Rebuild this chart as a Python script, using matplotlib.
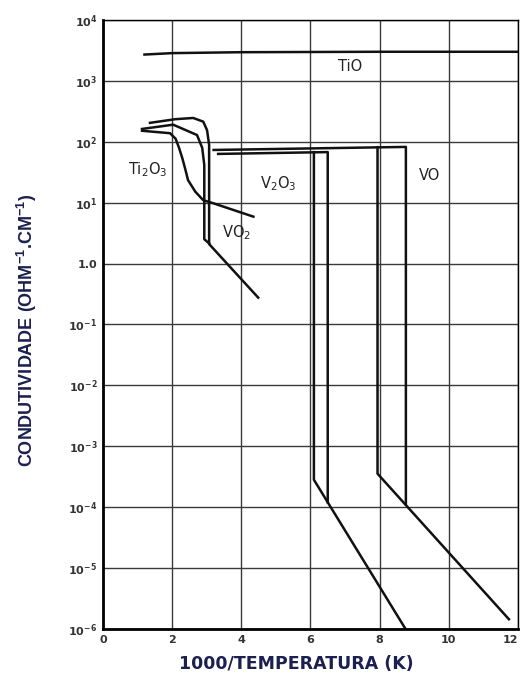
import numpy as np
import matplotlib.pyplot as plt
from matplotlib import font_manager

plt.rcParams["mathtext.default"] = "regular"

# --- DATA (x = 1000/T, y = conductivity) ---
tio_x = [1.2, 2.0, 4.0, 8.0, 12.0]
tio_y = [2.7e3, 2.85e3, 2.95e3, 3.0e3, 3.0e3]

ti2o3_x = [1.13, 1.94, 2.1, 2.2, 2.3, 2.38, 2.46, 2.67, 2.9, 3.19, 4.35]
ti2o3_y = [10**2.18, 10**2.14, 10**2.05, 10**1.90, 10**1.72, 10**1.55, 10**1.37,
           10**1.18, 10**1.04, 10**0.99, 10**0.77]

vo2_a_x = [1.36, 2.09, 2.61, 2.9, 3.01, 3.07, 3.07, 4.49]
vo2_a_y = [10**2.31, 10**2.37, 10**2.39, 10**2.33, 10**2.19, 10**1.95, 10**0.32, 10**-0.56]
vo2_b_x = [1.13, 2.03, 2.72, 2.87, 2.93, 2.93, 3.07]
vo2_b_y = [10**2.21, 10**2.28, 10**2.11, 10**1.90, 10**1.62, 10**0.40, 10**0.33]

v2o3_a_x = [3.33, 6.5, 6.5]
v2o3_a_y = [10**1.80, 10**1.83, 10**-3.92]
v2o3_b_x = [6.1, 6.1, 8.75]
v2o3_b_y = [10**1.83, 10**-3.55, 10**-6.0]

vo_a_x = [3.2, 8.76, 8.76]
vo_a_y = [10**1.865, 10**1.915, 10**-3.95]
vo_b_x = [7.94, 7.94, 11.74]
vo_b_y = [10**1.91, 10**-3.45, 10**-5.84]

labels = ["TiO", "Ti$_2$O$_3$", "VO$_2$", "V$_2$O$_3$", "VO"]
label_x = [7.16, 1.3, 3.86, 5.07, 9.45]
label_y = [10**3.23, 10**1.54, 10**0.50, 10**1.32, 10**1.45]

yticks = [1e-6, 1e-5, 1e-4, 1e-3, 1e-2, 1e-1, 1e0, 1e1, 1e2, 1e3, 1e4]
ytick_labels = ["$10^{-6}$", "$10^{-5}$", "$10^{-4}$", "$10^{-3}$", "$10^{-2}$",
                "$10^{-1}$", "1.0", "$10^{1}$", "$10^{2}$", "$10^{3}$", "$10^{4}$"]
xticks = [0, 2, 4, 6, 8, 10, 12]

# pick a narrow font for the y label if one is there
names = {f.name for f in font_manager.fontManager.ttflist}
narrow = [n for n in ["Liberation Sans Narrow", "DejaVu Sans Condensed", "Liberation Sans"] if n in names]

# --- PLOT ---
fig = plt.figure(figsize=(5.2, 6.73), dpi=100)
ax = fig.add_axes([0.198, 0.0654, 0.798, 0.905])

ink = "#111111"
for xs, ys in [(tio_x, tio_y), (ti2o3_x, ti2o3_y), (vo2_a_x, vo2_a_y), (vo2_b_x, vo2_b_y),
               (v2o3_a_x, v2o3_a_y), (v2o3_b_x, v2o3_b_y), (vo_a_x, vo_a_y), (vo_b_x, vo_b_y)]:
    ax.plot(xs, ys, color=ink, lw=1.8, solid_joinstyle="round")

for t, x, y in zip(labels, label_x, label_y):
    ax.text(x, y, t, ha="center", va="center", fontsize=10.5, color="#222222")

ax.set_yscale("log")
ax.set_xlim(0, 12)
ax.set_ylim(1e-6, 1e4)
ax.set_yticks(yticks)
ax.set_yticklabels(ytick_labels)
ax.minorticks_off()
ax.set_xticks(xticks)
ax.tick_params(length=0, labelsize=8, colors="#333333", pad=4)
for lab in ax.get_xticklabels() + ax.get_yticklabels():
    lab.set_fontweight("bold")
ax.get_xticklabels()[-1].set_ha("right")
ax.grid(True, color="#3a3a3a", lw=1.0)

for side in ["left", "bottom"]:
    ax.spines[side].set_linewidth(2.0)
for side in ["top", "right"]:
    ax.spines[side].set_linewidth(1.0)

ax.set_xlabel("1000/TEMPERATURA (K)", fontsize=12.5, fontweight="bold", color="#1c2050")
ax.xaxis.set_label_coords(0.465, -0.042)
ax.set_ylabel("CONDUTIVIDADE (OHM$^{-1}$.CM$^{-1}$)", fontsize=13, fontweight="bold",
              color="#1c2050", family=narrow + ["DejaVu Sans"], fontstretch="condensed")
ax.yaxis.set_label_coords(-0.155, 0.49)

plt.savefig("out.png", dpi=100)
